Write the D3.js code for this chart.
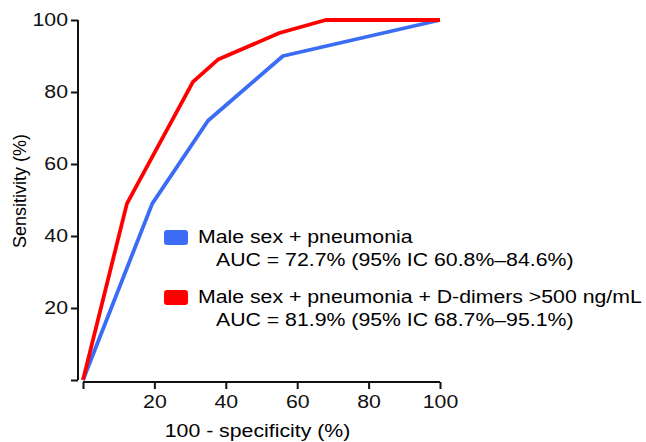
<!DOCTYPE html>
<html>
<head>
<meta charset="utf-8">
<script src="https://cdn.jsdelivr.net/npm/d3@7"></script>
<style>
  body { margin: 0; background: #fff; }
  svg { display: block; font-family: "Liberation Sans", Arial, sans-serif; }
  .axis path, .axis line { stroke: #111; stroke-width: 2; }
  .axis text { font-size: 18.5px; fill: #111; }
</style>
</head>
<body>
<svg id="chart" width="646" height="442"></svg>
<script>
const xTicks = [0, 20, 40, 60, 80, 100];
const yTicks = [0, 20, 40, 60, 80, 100];

const seriesNames = ["Male sex + pneumonia", "Male sex + pneumonia + D-dimers >500 ng/mL"];
const seriesAuc = ["AUC = 72.7% (95% IC 60.8%–84.6%)", "AUC = 81.9% (95% IC 68.7%–95.1%)"];
const seriesColors = ["#3a6cf4", "#ff0000"];

// 100 - specificity, sensitivity
const bluePoints = [[0, 0], [19.4, 49], [35, 72], [56, 90], [100, 100]];
const redPoints = [[0, 0], [12.3, 49], [30.8, 82.8], [37.8, 89], [55, 96.4], [68, 100], [100, 100]];

// the source picture is a bit wider than tall, so the text is stretched too
const stretch = 1.15;

const svg = d3.select("#chart");

const x = d3.scaleLinear().domain([0, 100]).range([83, 440]);
const y = d3.scaleLinear().domain([0, 100]).range([380, 20]);

const yAxis = d3.axisLeft(y)
    .tickValues(yTicks)
    .tickSize(7)
    .tickPadding(3)
    .tickFormat((d) => d === 0 ? "" : d);

const xAxis = d3.axisBottom(x)
    .tickValues(xTicks)
    .tickSize(7)
    .tickPadding(6)
    .tickFormat((d) => d === 0 ? "" : d);

svg.append("g")
    .attr("class", "axis")
    .attr("transform", "translate(78,0)")
    .call(yAxis)
    .call((g) => g.select(".domain").attr("d", `M0,${y(100)}V${y(0)}`))
    .call((g) => g.selectAll(".tick text")
        .attr("transform", function() {
          const tx = +d3.select(this).attr("x");
          return `translate(${tx},0) scale(${stretch},1)`;
        })
        .attr("x", 0));

svg.append("g")
    .attr("class", "axis")
    .attr("transform", "translate(0,382)")
    .call(xAxis)
    .call((g) => g.select(".domain").attr("d", `M${x(0)},0H${x(100)}`))
    .call((g) => g.selectAll(".tick text").attr("transform", `scale(${stretch},1)`));

// axis titles
svg.append("text")
    .attr("transform", `translate(${x(50) - 4},437) scale(${stretch},1)`)
    .attr("text-anchor", "middle")
    .style("font-size", "18.5px")
    .text("100 - specificity (%)");

svg.append("text")
    .attr("transform", `translate(26,191) rotate(-90)`)
    .attr("text-anchor", "middle")
    .style("font-size", "18px")
    .text("Sensitivity (%)");

const line = d3.line()
    .x((d) => x(d[0]))
    .y((d) => y(d[1]));

[bluePoints, redPoints].forEach((pts, i) => {
  svg.append("path")
      .datum(pts)
      .attr("d", line)
      .attr("fill", "none")
      .attr("stroke", seriesColors[i])
      .attr("stroke-width", 3.8)
      .attr("stroke-linejoin", "round");
});

// legend
const legend = svg.append("g").attr("transform", "translate(164,230)");
seriesNames.forEach((name, i) => {
  const g = legend.append("g").attr("transform", `translate(0,${i * 60})`);
  g.append("rect")
      .attr("width", 24)
      .attr("height", 15)
      .attr("rx", 3)
      .attr("fill", seriesColors[i]);
  g.append("text")
      .attr("transform", `translate(34,13) scale(${stretch},1)`)
      .style("font-size", "18.5px")
      .text(name);
  g.append("text")
      .attr("transform", `translate(52,35.5) scale(${stretch},1)`)
      .style("font-size", "18.5px")
      .text(seriesAuc[i]);
});
</script>
</body>
</html>
